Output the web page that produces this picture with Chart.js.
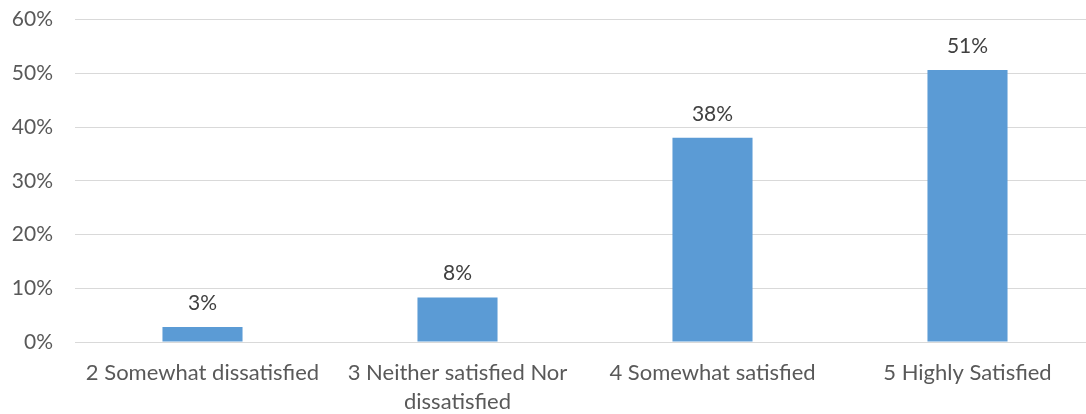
<!DOCTYPE html>
<html>
<head>
<meta charset="utf-8">
<style>
    html, body { margin: 0; padding: 0; background: #fff; overflow: hidden; }
    #wrap { width: 1100px; height: 429px; margin-top: -15px; }
</style>
</head>
<body>
<div id="wrap">
    <canvas id="myChart"></canvas>
</div>

<script src="https://cdn.jsdelivr.net/npm/chart.js"></script>
<script>
    // data
    const categories = [
        '2 Somewhat dissatisfied',
        ['3 Neither satisfied Nor', 'dissatisfied'],
        '4 Somewhat satisfied',
        '5 Highly Satisfied'
    ];
    const shares = [2.8, 8.3, 38.0, 50.6];
    const yTicks = [0, 10, 20, 30, 40, 50, 60];

    const FONT = 'Lato, "Open Sans", sans-serif';

    // labels above bars
    const valueLabels = {
        id: 'valueLabels',
        afterDatasetsDraw(chart) {
            const ctx = chart.ctx;
            const meta = chart.getDatasetMeta(0);
            ctx.save();
            ctx.font = '21px ' + FONT;
            ctx.fillStyle = '#404040';
            ctx.textAlign = 'center';
            ctx.textBaseline = 'alphabetic';
            meta.data.forEach(function (bar, i) {
                ctx.fillText(Math.round(shares[i]) + '%', bar.x, bar.y - 17);
            });
            ctx.restore();
        }
    };

    const ctx = document.getElementById('myChart');

    new Chart(ctx, {
        type: 'bar',
        data: {
            labels: categories,
            datasets: [{
                data: shares,
                backgroundColor: '#5b9bd5',
                barPercentage: 1,
                categoryPercentage: 0.314
            }]
        },
        options: {
            responsive: true,
            maintainAspectRatio: false,
            animation: false,
            layout: { padding: { top: 0, right: 5, left: 0, bottom: 0 } },
            plugins: {
                legend: { display: false },
                tooltip: { enabled: false }
            },
            scales: {
                x: {
                    grid: { display: false },
                    border: { display: false },
                    afterFit(axis) { axis.height = 72; },
                    ticks: {
                        color: '#595959',
                        font: { family: FONT, size: 22, lineHeight: 1.32 },
                        padding: 8,
                        maxRotation: 0,
                        autoSkip: false
                    }
                },
                y: {
                    min: 0,
                    max: 60,
                    afterBuildTicks(axis) {
                        axis.ticks = yTicks.map(function (v) { return { value: v }; });
                    },
                    afterFit(axis) { axis.width = 75; },
                    grid: { color: '#d9d9d9', lineWidth: 1, drawTicks: false },
                    border: { display: false },
                    ticks: {
                        color: '#595959',
                        font: { family: FONT, size: 21 },
                        padding: 22,
                        callback: function (v) { return v + '%'; }
                    }
                }
            }
        },
        plugins: [valueLabels]
    });
</script>
</body>
</html>
